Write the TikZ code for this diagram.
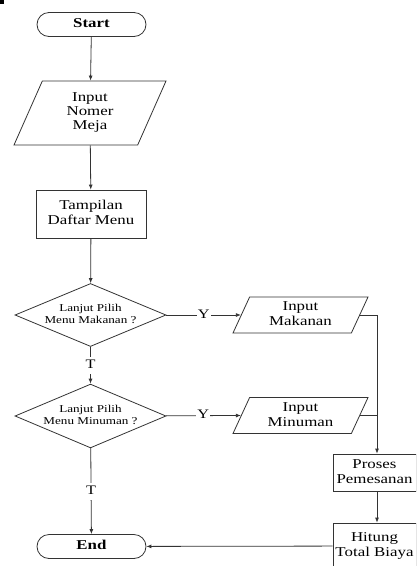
\documentclass[tikz,border=0pt]{standalone}
\usepackage{fontspec}
\setmainfont{Liberation Serif}
\usetikzlibrary{shapes.geometric,shapes.misc,arrows.meta,calc}
\newcommand{\stx}[1]{\scalebox{1.25}[1]{\begin{tabular}{@{}c@{}}#1\end{tabular}}}
\begin{document}
\begin{tikzpicture}[x=1pt,y=-1pt,
  line/.style={draw=black!80, line width=0.8pt},
  arr/.style={line, -{Latex[length=5pt,width=4pt]}},
  term/.style={rounded rectangle, line, minimum width=109pt, minimum height=24pt, inner sep=0pt, font=\fontsize{13.5}{15}\selectfont\bfseries},
  io/.style={trapezium, trapezium stretches body, line, inner sep=0pt, font=\fontsize{13.5}{15}\selectfont},
  proc/.style={rectangle, line, inner sep=0pt, font=\fontsize{13.5}{15}\selectfont},
  dec/.style={diamond, line, inner sep=0pt, aspect=2.36, minimum width=151pt, minimum height=63pt, font=\fontsize{10.5}{12}\selectfont},
  lab/.style={fill=white, inner sep=1pt, font=\fontsize{13}{15}\selectfont}
]
\useasboundingbox (0,0) rectangle (416,566);
\clip (0,0) rectangle (416,566);
\fill[black] (0,0) rectangle (4,4);

\node[term] (start) at (91.5,24.5) {\stx{Start}};
\node[io, trapezium left angle=56, trapezium right angle=124, minimum width=152pt, minimum height=64pt, font=\fontsize{13.5}{14}\selectfont] (nomer) at (90,113) {\stx{Input\\Nomer\\Meja}};
\node[proc, minimum width=110pt, minimum height=48pt] (menu) at (91,214) {\stx{Tampilan\\Daftar Menu}};
\node[dec] (d1) at (90.5,315) {\stx{Lanjut Pilih\\Menu Makanan ?}};
\node[io, trapezium left angle=61, trapezium right angle=119, minimum width=135pt, minimum height=36pt] (mak) at (300.5,315) {\stx{Input\\Makanan}};
\node[dec] (d2) at (90.5,416) {\stx{Lanjut Pilih\\Menu Minuman ?}};
\node[io, trapezium left angle=61, trapezium right angle=119, minimum width=135pt, minimum height=36pt] (min) at (300.5,415.5) {\stx{Input\\Minuman}};
\node[proc, minimum width=83pt, minimum height=37pt] (proses) at (374.5,472.5) {\stx{Proses\\Pemesanan}};
\node[proc, minimum width=83pt, minimum height=46pt] (hitung) at (374.5,546) {\stx{Hitung\\Total Biaya}};
\node[term] (end) at (91.5,546.5) {\stx{End}};

\coordinate (jm) at (377,315);
\coordinate (jn) at (377,415.5);

\draw[arr] (start) -- (nomer);
\draw[arr] (nomer) -- (menu);
\draw[arr] (menu) -- (d1);
\draw[arr] (d1) -- node[lab]{\stx{Y}} (mak.left side);
\draw[arr] (d1) -- node[lab]{\stx{T}} (d2);
\draw[arr] (d2) -- node[lab]{\stx{Y}} (min.left side);
\draw[arr] (d2) -- node[lab]{\stx{T}} (end);
\draw[line] (mak.right side) -- (jm);
\draw[arr] (jm) -- (jm |- proses.north);
\draw[line] (min.right side) -- (jn);
\draw[arr] (jm |- proses.south) -- (jm |- hitung.north);
\draw[arr] (hitung) -- (end);
\end{tikzpicture}
\end{document}
